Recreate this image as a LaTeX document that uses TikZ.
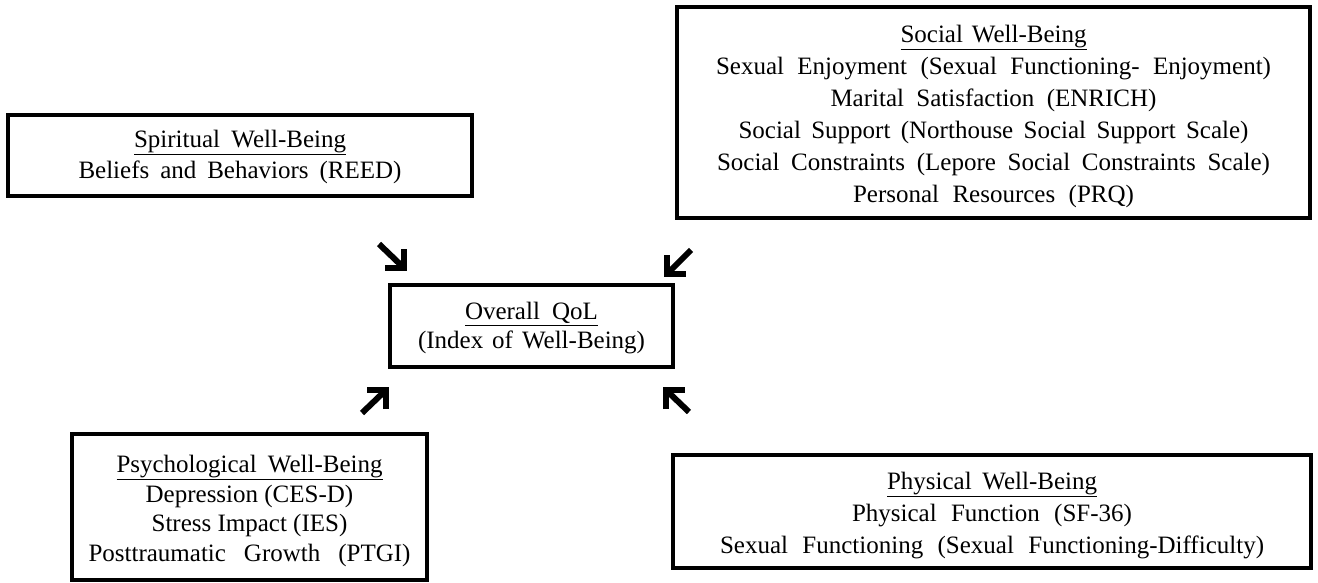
\documentclass[tikz,border=0pt]{standalone}
\usepackage{fontspec}
\setmainfont{Liberation Serif}
\usetikzlibrary{calc}
\newcommand{\fitln}[2]{\makebox[#1pt][s]{#2}}
\begin{document}
\begin{tikzpicture}[x=1pt,y=-1pt,
  box/.style={draw, line width=3.5pt, inner sep=0pt},
  txt/.style={align=center, inner sep=0pt},
  bigarrow/.style={line width=6pt, miter limit=10}]
\useasboundingbox (0,0) rectangle (1318,583);
% boxes
\node[box, minimum width=464, minimum height=81] (spirit) at (240,155.5) {};
\node[box, minimum width=633, minimum height=211] (social) at (993.5,112.5) {};
\node[box, minimum width=283, minimum height=82] (overall) at (531.5,326) {};
\node[box, minimum width=355, minimum height=146] (psych) at (249.5,507) {};
\node[box, minimum width=638, minimum height=113] (phys) at (992,511.5) {};
% texts
\node[txt, font=\fontsize{25}{31}\selectfont] (spiritT) at ([yshift=-1pt]spirit.center)
  {\underline{\fitln{212}{Spiritual Well-Being}}\\\fitln{323}{Beliefs and Behaviors (REED)}};
\node[txt, font=\fontsize{25}{32}\selectfont] (socialT) at ([yshift=-4pt]social.center)
  {\underline{\fitln{186}{Social Well-Being}}\\
   \fitln{555}{Sexual Enjoyment (Sexual Functioning- Enjoyment)}\\
   \fitln{326}{Marital Satisfaction (ENRICH)}\\
   \fitln{510}{Social Support (Northouse Social Support Scale)}\\
   \fitln{553}{Social Constraints (Lepore Social Constraints Scale)}\\
   \fitln{281}{Personal Resources (PRQ)}};
\node[txt, font=\fontsize{25}{29}\selectfont] (overallT) at ([yshift=-2pt]overall.center)
  {\underline{\fitln{133}{Overall QoL}}\\\fitln{227}{(Index of Well-Being)}};
\node[txt, font=\fontsize{25}{29.5}\selectfont] (psychT) at ([yshift=-4pt]psych.center)
  {\underline{\fitln{266}{Psychological Well-Being}}\\Depression (CES-D)\\Stress Impact (IES)\\\fitln{322}{Posttraumatic Growth (PTGI)}};
\node[txt, font=\fontsize{25}{32}\selectfont] (physT) at ([yshift=-4pt]phys.center)
  {\underline{\fitln{210}{Physical Well-Being}}\\\fitln{280}{Physical Function (SF-36)}\\\fitln{544}{Sexual Functioning (Sexual Functioning-Difficulty)}};
% arrows
\coordinate (a1t) at (379,244); \coordinate (a1h) at (404,268);
\coordinate (a2t) at (691,250); \coordinate (a2h) at (667,274);
\coordinate (a3t) at (362,413); \coordinate (a3h) at (386,390);
\coordinate (a4t) at (689,412); \coordinate (a4h) at (666,390);
\draw[bigarrow] (a1t) -- (a1h);
\draw[bigarrow] ($(a1h)+(0,-19)$) -- (a1h) -- ($(a1h)+(-19,0)$);
\draw[bigarrow] (a2t) -- (a2h);
\draw[bigarrow] ($(a2h)+(0,-19)$) -- (a2h) -- ($(a2h)+(19,0)$);
\draw[bigarrow] (a3t) -- (a3h);
\draw[bigarrow] ($(a3h)+(0,19)$) -- (a3h) -- ($(a3h)+(-19,0)$);
\draw[bigarrow] (a4t) -- (a4h);
\draw[bigarrow] ($(a4h)+(0,19)$) -- (a4h) -- ($(a4h)+(19,0)$);
\end{tikzpicture}
\end{document}
